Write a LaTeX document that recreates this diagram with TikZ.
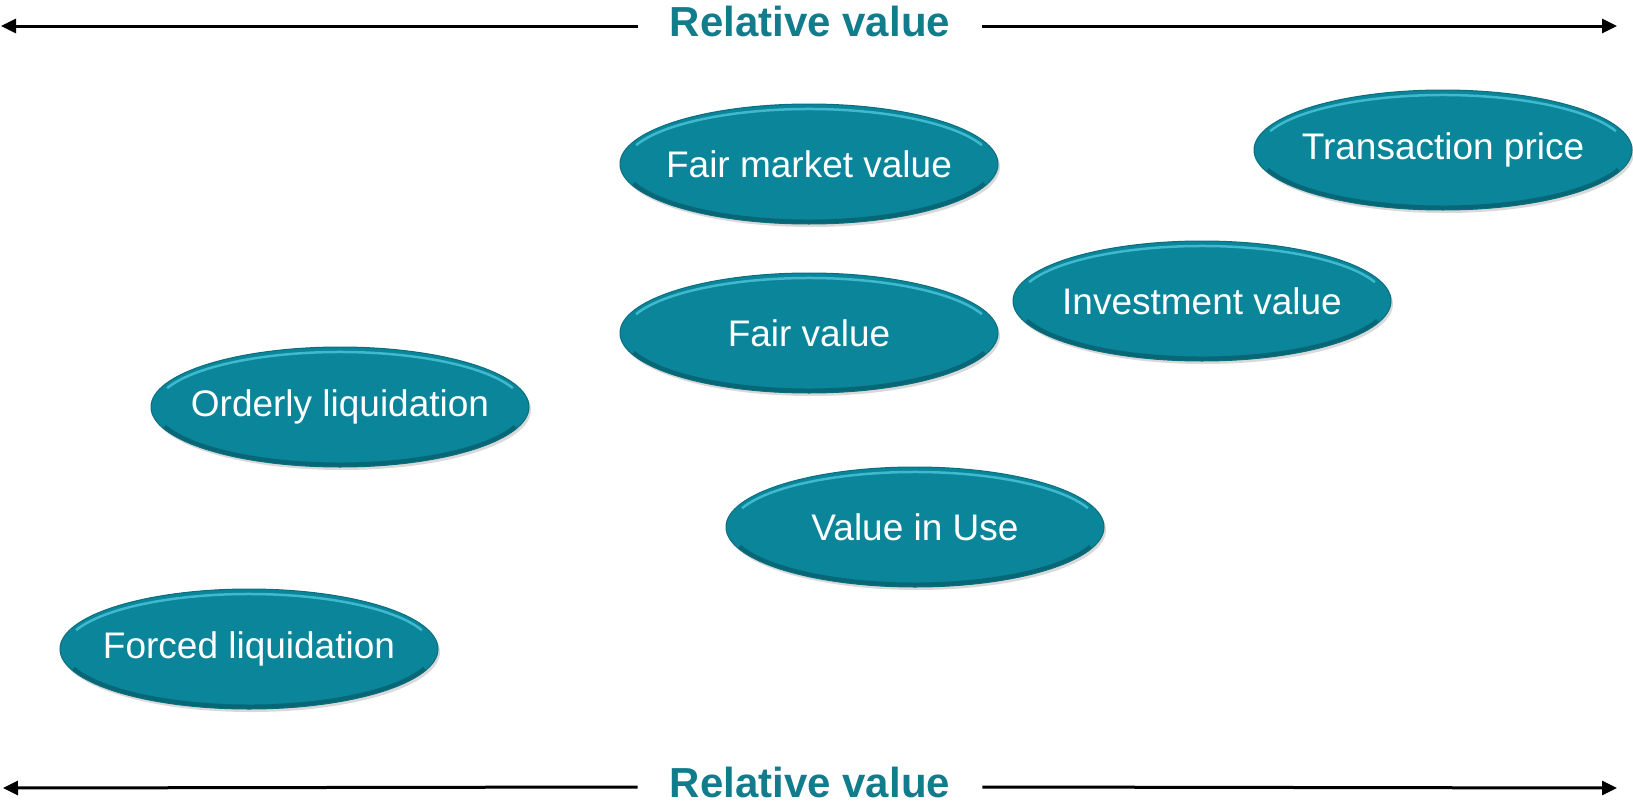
\documentclass[tikz,border=0pt]{standalone}
\usepackage{fontspec}
\setmainfont{Liberation Sans}
\usetikzlibrary{arrows.meta,shapes.geometric,shadows}

\definecolor{ovalfill}{HTML}{0A8599}
\definecolor{ovalrim}{HTML}{0B6E7E}
\definecolor{ovaldark}{HTML}{064F5B}
\definecolor{ovallight}{HTML}{4CC6DA}
\definecolor{axistext}{HTML}{117C8C}

% keep the text from widening the ellipse
\newcommand{\ovaltext}[1]{\makebox[0pt]{\raisebox{-2pt}{#1}}}

\begin{document}
\begin{tikzpicture}[x=1pt,y=-1pt,
        axis/.style={line width=3pt,-{Triangle[length=15pt,width=14pt]}},
        axislabel/.style={text=axistext,font=\fontsize{42}{46}\selectfont\bfseries,
            inner xsep=32pt,inner ysep=0pt,text depth=10pt},
        oval/.style={ellipse,minimum width=378pt,minimum height=120pt,inner sep=0pt,
            fill=ovalfill,draw=ovalrim,line width=1pt,text=white,
            font=\fontsize{37}{41}\selectfont,
            drop shadow={shadow xshift=2pt,shadow yshift=-3pt,opacity=.3},
            path picture={
              \draw[ovaldark,line width=5pt,opacity=.55]
                (path picture bounding box.center) ++(200:187pt and 58pt)
                arc[start angle=200,end angle=340,x radius=187pt,y radius=58pt];
              \draw[ovallight,line width=2.5pt,opacity=.8]
                (path picture bounding box.center) ++(160:184pt and 55pt)
                arc[start angle=160,end angle=20,x radius=184pt,y radius=55pt];}}]

  \useasboundingbox (0,0) rectangle (1633,803);

  % axes
  \node[axislabel] (toplabel) at (810,26) {Relative value};
  \node[axislabel] (botlabel) at (810,787) {Relative value};
  \coordinate (topleft)  at (1,26);
  \coordinate (topright) at (1617,26);
  \coordinate (botleft)  at (3,788);
  \coordinate (botright) at (1617,788);
  \draw[axis] (toplabel.west) -- (topleft);
  \draw[axis] (toplabel.east) -- (topright);
  \draw[axis] (botlabel.west) -- (botleft);
  \draw[axis] (botlabel.east) -- (botright);

  % kinds of value
  \node[oval] (fmv)      at (809,164)  {\ovaltext{Fair market value}};
  \node[oval] (price)    at (1443,150) {\ovaltext{Transaction price}};
  \node[oval] (invest)   at (1202,301) {\ovaltext{Investment value}};
  \node[oval] (fair)     at (809,333)  {\ovaltext{Fair value}};
  \node[oval] (orderly)  at (340,407)  {\ovaltext{Orderly liquidation}};
  \node[oval] (inuse)    at (915,527)  {\ovaltext{Value in Use}};
  \node[oval] (forced)   at (249,649)  {\ovaltext{Forced liquidation}};

\end{tikzpicture}
\end{document}
